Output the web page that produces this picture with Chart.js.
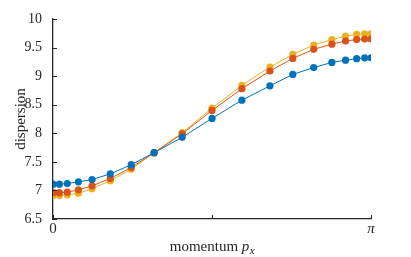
<!DOCTYPE html>
<html>
<head>
<meta charset="utf-8">
<script src="https://cdn.jsdelivr.net/npm/chart.js@4.4.1/dist/chart.umd.min.js"></script>
<style>
  html, body { margin: 0; padding: 0; background: #fff; }
  #wrap { width: 411px; height: 257px; position: relative; }
</style>
</head>
<body>
<div id="wrap"><canvas id="chart" width="411" height="257"></canvas></div>
<script>
// momentum p_x sample points (radians)
const momentum = [0, 0.063, 0.141, 0.251, 0.386, 0.566, 0.773, 0.999, 1.276, 1.571,
                  1.866, 2.143, 2.369, 2.576, 2.755, 2.890, 3.000, 3.079, 3.142];
const blueSeries   = [7.11, 7.11, 7.12, 7.15, 7.19, 7.29, 7.45, 7.66, 7.93, 8.26,
                      8.58, 8.83, 9.03, 9.15, 9.24, 9.28, 9.305, 9.32, 9.32];
const orangeSeries = [6.96, 6.96, 6.97, 7.01, 7.08, 7.21, 7.40, 7.66, 7.99, 8.40,
                      8.78, 9.09, 9.31, 9.47, 9.56, 9.615, 9.64, 9.65, 9.65];
const yellowSeries = [6.91, 6.91, 6.92, 6.95, 7.03, 7.17, 7.37, 7.66, 8.01, 8.44,
                      8.84, 9.16, 9.38, 9.545, 9.64, 9.70, 9.73, 9.74, 9.74];
const xTickVals = [0, Math.PI / 2, Math.PI];
const xTickLabels = ['0', '', 'π'];
const yTickVals = [6.5, 7, 7.5, 8, 8.5, 9, 9.5, 10];

const axisColor = '#262626';
const serif = "'Liberation Serif', 'DejaVu Serif', serif";

function toPoints(ys) {
  return ys.map((y, i) => ({ x: momentum[i], y: y }));
}

function makeSet(ys, color) {
  return {
    data: toPoints(ys),
    borderColor: color,
    backgroundColor: color,
    borderWidth: 1,
    pointRadius: 3.6,
    pointBorderWidth: 0,
    pointHoverRadius: 3.6,
    tension: 0,
    fill: false
  };
}

// inward tick marks + x label with italic p and subscript x
const extras = {
  id: 'extras',
  afterDraw(chart) {
    const ctx = chart.ctx;
    const xs = chart.scales.x, ys = chart.scales.y;
    ctx.save();
    ctx.strokeStyle = axisColor;
    ctx.lineWidth = 1;
    ctx.beginPath();
    yTickVals.forEach(v => {
      const py = Math.round(ys.getPixelForValue(v)) + 0.5;
      ctx.moveTo(xs.left, py);
      ctx.lineTo(xs.left + 4, py);
    });
    xTickVals.forEach(v => {
      const px = Math.round(xs.getPixelForValue(v)) + 0.5;
      ctx.moveTo(px, ys.bottom);
      ctx.lineTo(px, ys.bottom - 4);
    });
    ctx.stroke();

    ctx.fillStyle = axisColor;
    ctx.textBaseline = 'alphabetic';
    const partA = 'momentum ';
    ctx.font = '15px ' + serif;
    const wA = ctx.measureText(partA).width;
    ctx.font = 'italic 15px ' + serif;
    const wP = ctx.measureText('p').width;
    ctx.font = 'italic 11px ' + serif;
    const wX = ctx.measureText('x').width;
    const cx = (xs.left + xs.right) / 2;
    let x0 = cx - (wA + wP + wX) / 2;
    const base = 251;
    ctx.font = '15px ' + serif;
    ctx.fillText(partA, x0, base);
    ctx.font = 'italic 15px ' + serif;
    ctx.fillText('p', x0 + wA, base);
    ctx.font = 'italic 11px ' + serif;
    ctx.fillText('x', x0 + wA + wP + 0.5, base + 2.5);
    ctx.restore();
  }
};

new Chart(document.getElementById('chart'), {
  type: 'line',
  data: {
    datasets: [
      makeSet(blueSeries, '#0072BD'),
      makeSet(orangeSeries, '#D95319'),
      makeSet(yellowSeries, '#EDB120')
    ]
  },
  options: {
    responsive: false,
    animation: false,
    layout: { padding: { left: 0, right: 40, top: 19, bottom: 0 } },
    plugins: { legend: { display: false }, tooltip: { enabled: false } },
    scales: {
      x: {
        type: 'linear',
        min: 0,
        max: Math.PI,
        afterBuildTicks: s => { s.ticks = xTickVals.map(v => ({ value: v })); },
        afterFit: s => { s.height = 38; },
        grid: { display: false },
        border: { display: true, color: axisColor, width: 1.3 },
        ticks: {
          color: axisColor,
          font: c => ({ family: serif, size: 15, style: c.index === 2 ? 'italic' : 'normal' }),
          padding: -7,
          maxRotation: 0,
          callback: (v, i) => xTickLabels[i]
        }
      },
      y: {
        min: 6.5,
        max: 10,
        afterBuildTicks: s => { s.ticks = yTickVals.map(v => ({ value: v })); },
        afterFit: s => { s.width = 53; },
        grid: { display: false },
        border: { display: true, color: axisColor, width: 1.3 },
        ticks: {
          color: axisColor,
          font: { family: serif, size: 14 },
          padding: 3,
          callback: v => String(v)
        },
        title: {
          display: true,
          text: 'dispersion',
          color: axisColor,
          font: { family: serif, size: 15 },
          padding: { top: 12, bottom: 0 }
        }
      }
    }
  },
  plugins: [extras]
});
</script>
</body>
</html>
